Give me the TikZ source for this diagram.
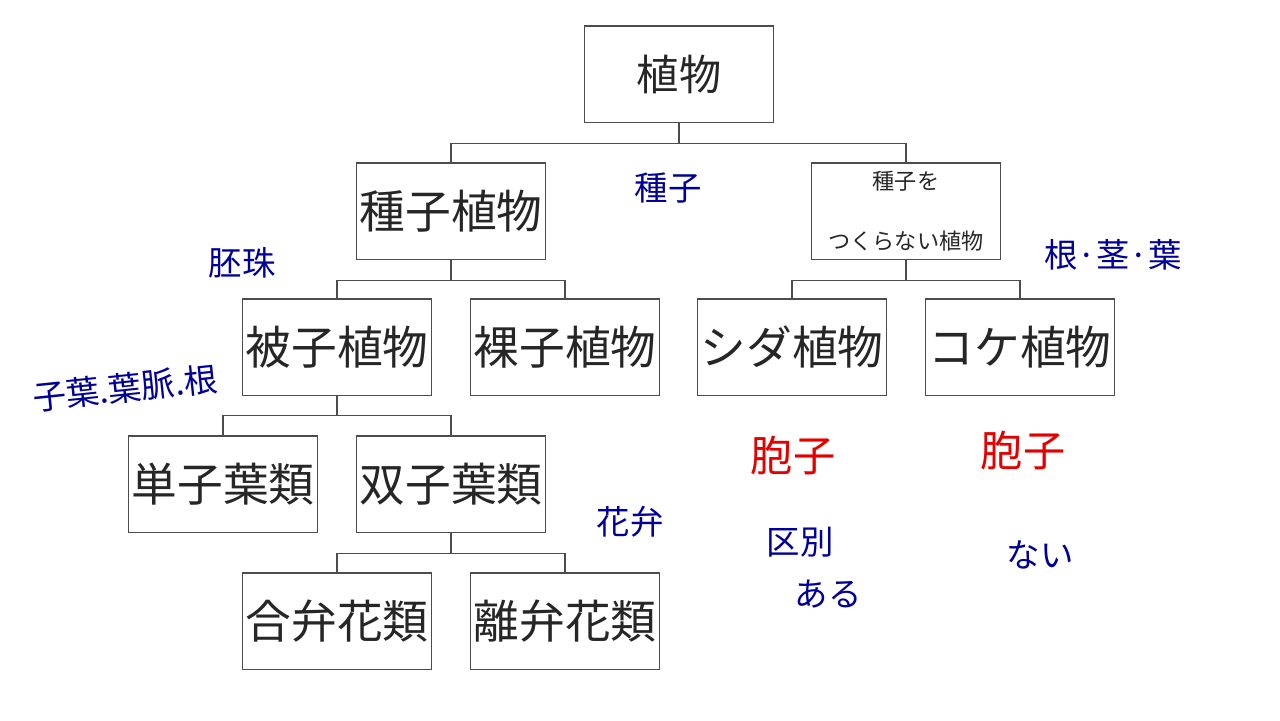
\documentclass[tikz,border=0pt]{standalone}
\usepackage{fontspec}
\setmainfont{Noto Sans CJK JP}
\newfontfamily\hand{Noto Sans CJK JP}
\begin{document}
\begin{tikzpicture}[x=0.01cm,y=-0.01cm,
  box/.style={draw=black!70,line width=0.3pt,minimum width=1.88cm,minimum height=0.96cm,inner sep=0pt,text=black!85,font=\fontsize{13}{15}\selectfont},
  link/.style={draw=black!70,line width=0.3pt},
  memo/.style={text=blue!60!black,font=\hand\fontsize{9.5}{10}\selectfont},
  spore/.style={text=red!90!black,font=\hand\fontsize{12}{12}\selectfont}]
\useasboundingbox (0,0) rectangle (1280,720);
\node [box,font=\fontsize{12}{13}\selectfont] (plant) at (679,74) {植物};
\node [box] (seed) at (451,211) {種子植物};
\node [box,align=center,font=\fontsize{6.3}{13}\selectfont] (noseed) at (906,211) {種子を\\[4pt]つくらない植物};
\node [box] (angio) at (337,347) {被子植物};
\node [box] (gymno) at (565,347) {裸子植物};
\node [box] (fern) at (792,347) {シダ植物};
\node [box] (moss) at (1020,347) {コケ植物};
\node [box] (mono) at (223,484) {単子葉類};
\node [box] (di) at (451,484) {双子葉類};
\node [box] (sym) at (337,621) {合弁花類};
\node [box] (cho) at (565,621) {離弁花類};
% elbow connectors
\draw [link] (plant.south) -- ++(0,21) -| (seed.north);
\draw [link] (plant.south) -- ++(0,21) -| (noseed.north);
\draw [link] (seed.south) -- ++(0,21) -| (angio.north);
\draw [link] (seed.south) -- ++(0,21) -| (gymno.north);
\draw [link] (noseed.south) -- ++(0,21) -| (fern.north);
\draw [link] (noseed.south) -- ++(0,21) -| (moss.north);
\draw [link] (angio.south) -- ++(0,20) -| (mono.north);
\draw [link] (angio.south) -- ++(0,20) -| (di.north);
\draw [link] (di.south) -- ++(0,21) -| (sym.north);
\draw [link] (di.south) -- ++(0,21) -| (cho.north);
% notes
\node [memo] (n1) at (668,188) {種子};
\node [memo] (n2) at (242,263) {胚珠};
\node [memo,rotate=6] (n3) at (125,388) {子葉.葉脈.根};
\node [memo] (n4) at (1113,255) {根·茎·葉};
\node [memo] (n5) at (630,522) {花弁};
\node [memo] (n6) at (800,542) {区別};
\node [memo] (n7) at (828,594) {ある};
\node [memo] (n8) at (1040,555) {ない};
\node [spore] (s1) at (793,455) {胞子};
\node [spore] (s2) at (1023,450) {胞子};
\end{tikzpicture}
\end{document}
